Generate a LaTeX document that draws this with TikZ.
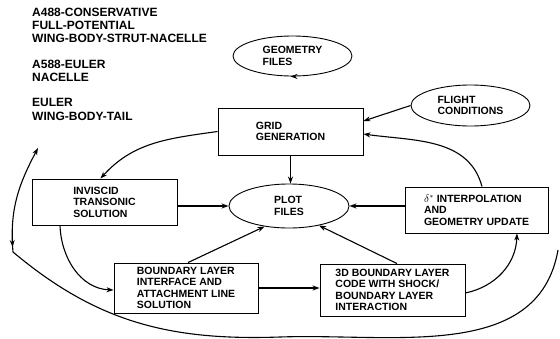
\documentclass[tikz,border=0pt]{standalone}
\usepackage{fontspec}
\setmainfont{Liberation Sans}
\usetikzlibrary{arrows.meta,shapes.geometric,decorations.markings}

\tikzset{
  arr/.style={-{Stealth[length=7pt,width=5pt]}},
  conn/.style={line width=1.1pt},
  stepbox/.style={draw, line width=0.9pt, rectangle, inner sep=0pt, align=left,
    font=\bfseries\fontsize{10.5}{11.5}\selectfont},
  oval/.style={draw, line width=0.9pt, ellipse, inner sep=0pt, align=left,
    font=\bfseries\fontsize{10.5}{11.5}\selectfont},
  heading/.style={anchor=north west, inner sep=0pt, align=left,
    font=\bfseries\fontsize{12}{13.4}\selectfont},
}

\begin{document}
\begin{tikzpicture}[x=1pt, y=-1pt]
\useasboundingbox (0,0) rectangle (560,338);

% program list
\node[heading] (codeA) at (32,7.5) {A488-CONSERVATIVE\\FULL-POTENTIAL\\WING-BODY-STRUT-NACELLE};
\node[heading] (codeB) at (32,59.5) {A588-EULER\\NACELLE};
\node[heading] (codeC) at (32,98.5) {EULER\\WING-BODY-TAIL};

% inputs
\node[oval, minimum width=119pt, minimum height=40pt] (geo) at (292.5,56) {GEOMETRY\\FILES};
\node[oval, minimum width=119pt, minimum height=41pt] (flight) at (470.5,105.5) {FLIGHT\\CONDITIONS};

% process steps
\node[stepbox, minimum width=145pt, minimum height=47pt] (grid) at (290.5,131.5) {GRID\\GENERATION};
\node[stepbox, minimum width=145pt, minimum height=46pt] (inv) at (104.5,202) {INVISCID\\TRANSONIC\\SOLUTION};
\node[oval, minimum width=120pt, minimum height=44pt] (plot) at (289,206) {PLOT\\FILES};
\node[stepbox, minimum width=143pt, minimum height=46pt] (delta) at (476.5,210) {$\delta^{*}$ INTERPOLATION\\AND\\GEOMETRY UPDATE};
\node[stepbox, minimum width=144pt, minimum height=50pt] (bl) at (186,288) {BOUNDARY LAYER\\INTERFACE AND\\ATTACHMENT LINE\\SOLUTION};
\node[stepbox, minimum width=145pt, minimum height=52pt] (tdbl) at (392.5,290) {3D BOUNDARY LAYER\\CODE WITH SHOCK/\\BOUNDARY LAYER\\INTERACTION};

% free ends of the outer loop
\coordinate (loopstart) at (558,250);
\coordinate (loopbottom) at (280,337);
\coordinate (loopleft) at (13,252);
\coordinate (loopend) at (38,148);

% connectors
\draw[conn, arr] (geo.south) -- (geo.south -| grid.north);
\draw[conn, arr] (flight.west) -- ([yshift=10.5pt]grid.east);
\draw[conn, arr] (grid.south) -- (grid.south |- plot.north);
\draw[conn, arr] ([xshift=5.5pt]delta.north) to[out=105, in=-8] ([yshift=-2.5pt]grid.east);
\draw[conn, arr] (grid.west) to[out=188, in=48] ([xshift=-4pt]inv.north);
\draw[conn, arr] (inv.east |- plot.west) -- (plot.west);
\draw[conn, arr] (delta.west |- plot.east) -- (plot.east);
\draw[conn, arr] ([xshift=2pt]bl.north) -- (plot.220);
\draw[conn, arr] ([xshift=4.5pt]tdbl.north) -- (plot.-33);
\draw[conn, arr] (bl.east) -- (bl.east -| tdbl.west);
\draw[conn, arr] ([xshift=-44.5pt]inv.south) to[out=-88, in=178] ([yshift=-2pt]bl.west);
\draw[conn, arr] ([yshift=-3pt]tdbl.east) to[out=12, in=-92] ([xshift=40.5pt]delta.south);
\draw[conn, arr,
  decoration={markings, mark=at position 0.855 with {\arrowreversed{Stealth[length=7pt,width=5pt]}}},
  postaction={decorate}]
  (loopstart) to[out=-100, in=2] (loopbottom)
  to[out=182, in=-40] (loopleft)
  to[out=95, in=-118] (loopend);
\end{tikzpicture}
\end{document}
